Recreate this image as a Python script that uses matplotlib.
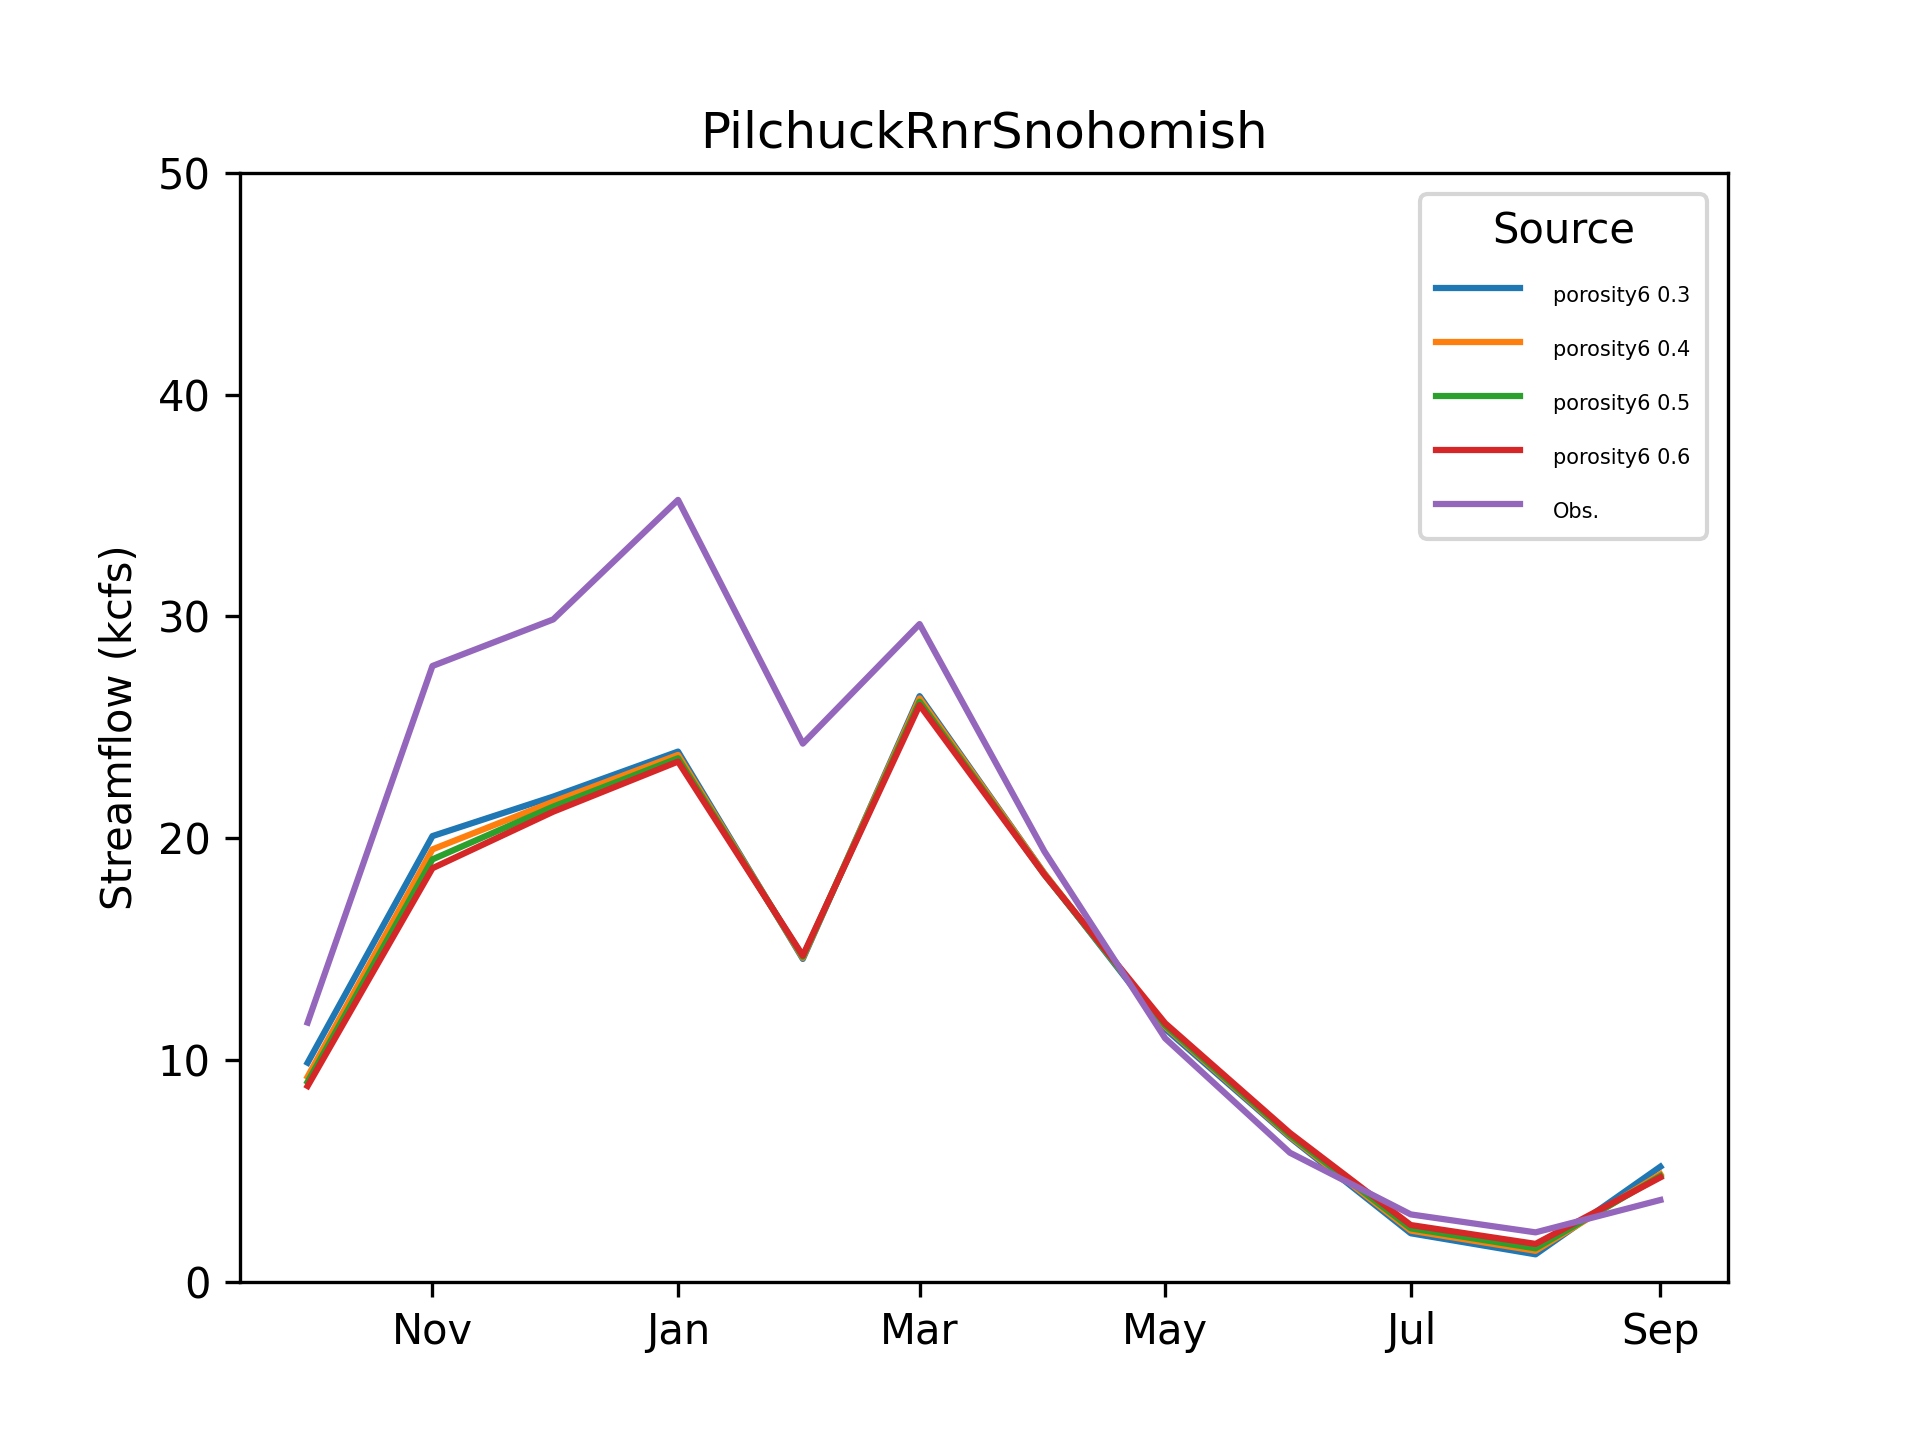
import pandas as pd
import matplotlib
matplotlib.use('Agg')
import matplotlib.pyplot as plt
import matplotlib.dates as mdates

# monthly mean streamflow (kcfs), water year Oct..Sep (leap Feb)
months = pd.date_range('2011-10-01', periods=12, freq='MS')

por_03 = [9.87, 20.09, 21.87, 23.9, 14.55, 26.4, 18.4, 11.4, 6.5, 2.18, 1.23, 5.18]
por_04 = [9.24, 19.49, 21.64, 23.75, 14.6, 26.3, 18.4, 11.5, 6.55, 2.30, 1.39, 4.84]
por_05 = [9.01, 19.04, 21.42, 23.6, 14.65, 26.15, 18.35, 11.55, 6.6, 2.40, 1.50, 4.76]
por_06 = [8.82, 18.64, 21.19, 23.45, 14.7, 26.0, 18.35, 11.65, 6.7, 2.55, 1.70, 4.70]
obs = [11.68, 27.76, 29.86, 35.25, 24.26, 29.65, 19.4, 10.97, 5.81, 3.03, 2.22, 3.68]

series = [
    ('porosity6 0.3', por_03),
    ('porosity6 0.4', por_04),
    ('porosity6 0.5', por_05),
    ('porosity6 0.6', por_06),
    ('Obs.', obs),
]

fig, ax = plt.subplots(figsize=(6.4, 4.8), dpi=300)
for label, vals in series:
    ax.plot(months, vals, label=label)

ax.set_ylim(0, 50)
ax.set_title('PilchuckRnrSnohomish')
ax.set_ylabel('Streamflow (kcfs)')
ax.xaxis.set_major_locator(mdates.MonthLocator(bymonth=[1, 3, 5, 7, 9, 11]))
ax.xaxis.set_major_formatter(mdates.DateFormatter('%b'))

leg = ax.legend(title='Source', loc='upper right')
for t in leg.get_texts():
    t.set_fontsize(5)

fig.savefig('out.png', dpi=300)
